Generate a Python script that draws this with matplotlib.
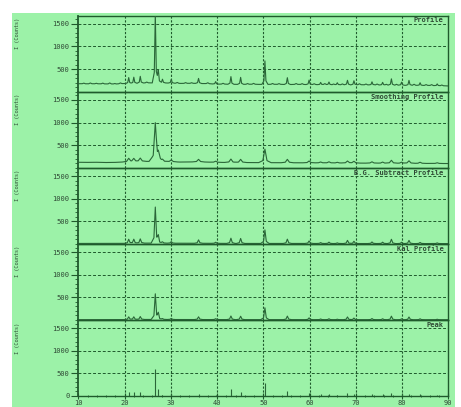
import numpy as np
import matplotlib
matplotlib.use("Agg")
import matplotlib.pyplot as plt
from matplotlib.patches import Rectangle
from matplotlib.ticker import MultipleLocator

# ---------------- data ----------------
panel_titles = ["Profile", "Smoothing Profile", "B.G. Subtract Profile", "Kal Profile", "Peak"]
y_label = "I (Counts)"
x_ticks = [10, 20, 30, 40, 50, 60, 70, 80, 90]
y_ticks = [500, 1000, 1500]

peak_2theta = [20.9, 22.0, 23.4, 26.65, 27.3, 28.2, 30.1, 36.0, 39.7, 43.0, 45.1, 50.35,
               55.2, 59.9, 62.4, 64.2, 66.0, 68.2, 69.6, 73.5, 75.8, 77.7, 79.9, 81.5, 83.9, 87.6]

heights_profile = [130, 135, 150, 1530, 290, 80, 85, 110, 55, 170, 155, 520,
                   150, 100, 50, 60, 45, 100, 90, 70, 60, 140, 70, 110, 60, 40]
heights_smooth = [75, 70, 75, 840, 150, 40, 40, 55, 25, 75, 70, 300,
                  75, 40, 20, 25, 15, 45, 40, 30, 25, 65, 25, 55, 25, 15]
heights_bgsub = [90, 90, 95, 790, 140, 30, 35, 75, 25, 115, 110, 300,
                 95, 55, 20, 30, 15, 70, 50, 35, 30, 95, 30, 70, 25, 15]
heights_kal = [60, 60, 65, 560, 125, 20, 25, 60, 20, 80, 75, 262,
               78, 40, 15, 20, 10, 60, 35, 25, 20, 78, 20, 60, 20, 10]
heights_peak = [95, 95, 95, 593, 155, 30, 40, 50, 25, 148, 95, 282,
                118, 73, 35, 45, 30, 60, 45, 40, 35, 70, 40, 55, 35, 25]

bg_2theta = [10, 12, 14, 16, 18, 20, 24, 28, 32, 36, 40, 45, 50, 55, 60, 65, 70, 75, 80, 85, 90]
bg_profile = [175, 170, 172, 168, 165, 178, 190, 195, 180, 182, 165, 160, 160, 158, 155, 150, 150, 145, 140, 135, 125]
bg_smooth = [120, 118, 120, 115, 118, 128, 140, 140, 125, 130, 118, 115, 112, 110, 108, 105, 102, 100, 98, 95, 92]
bg_bgsub = [8, 8, 8, 8, 8, 10, 15, 15, 12, 12, 10, 8, 8, 8, 8, 6, 6, 6, 5, 5, 5]
bg_kal = [5, 5, 5, 5, 5, 7, 10, 10, 8, 8, 7, 6, 6, 6, 5, 5, 5, 5, 4, 4, 4]

# small wiggles visible on the raw profile
wiggle_2theta = [11.2, 12.6, 13.9, 15.3, 16.8, 17.9, 19.1, 24.8, 31.4, 33.2, 34.5, 38.0, 41.3,
                 46.6, 47.9, 52.0, 53.4, 57.1, 58.4, 61.0, 63.3, 65.2, 67.1, 70.8, 72.2, 74.6,
                 76.6, 78.8, 82.6, 85.2, 86.4, 88.6]
wiggle_counts = [15, 20, 12, 18, 25, 14, 20, 20, 20, 18, 15, 22, 20, 18, 22, 20, 18, 22, 20,
                 20, 25, 18, 20, 25, 20, 22, 18, 20, 25, 20, 22, 18]

# ---------------- style ----------------
BG = "#9cf2a8"
LINE = "#2a6638"
AX = "#1f5a2c"
TXT = "#2f4a35"
FONT = "DejaVu Sans Mono"

W, H = 461, 407
fig = plt.figure(figsize=(W / 100, H / 100), dpi=100)
fig.patch.set_facecolor("white")
fig.patches.append(Rectangle((12 / W, 0), (455 - 12) / W, (H - 13) / H,
                             transform=fig.transFigure, facecolor=BG, edgecolor="none", zorder=-10))

left_px, right_px = 78.3, 448.3
top_px, bot_px = 15.5, 396.0
ph = (bot_px - top_px) / 5


def build_profile(bx, by, pos, hts, hw):
    xs = list(bx)
    for p in pos:
        xs += [p - 3 * hw, p - hw, p, p + hw, p + 3 * hw]
    xs = np.array(sorted(x for x in xs if 10 <= x <= 90))
    ys = np.interp(xs, bx, by)
    for p, h in zip(pos, hts):
        ys = ys + h * np.interp(xs - p, [-3 * hw, -hw, 0, hw, 3 * hw], [0, 0.15, 1, 0.15, 0])
    return xs, ys


profiles = [
    (bg_profile, heights_profile, 0.22),
    (bg_smooth, heights_smooth, 0.45),
    (bg_bgsub, heights_bgsub, 0.3),
    (bg_kal, heights_kal, 0.3),
]

for i in range(5):
    ptop = top_px + i * ph
    ax = fig.add_axes([left_px / W, 1 - (ptop + ph) / H, (right_px - left_px) / W, ph / H])
    ax.set_facecolor("none")
    ax.set_xlim(10, 90)
    ax.set_ylim(0, 1685)
    for s in ax.spines.values():
        s.set_color(AX)
        s.set_linewidth(1.0)
    ax.spines["left"].set_linewidth(1.3)

    for gx in x_ticks[1:-1]:
        ax.axvline(gx, color=AX, lw=0.8, ls=(0, (2, 1.5)), zorder=1)
    for gy in y_ticks:
        ax.axhline(gy, color=AX, lw=0.7, ls=(0, (3, 2)), zorder=1)

    if i < 4:
        bg, hts, hw = profiles[i]
        xs, ys = build_profile(bg_2theta, bg, peak_2theta, hts, hw)
        if i == 0:
            wx, wy = build_profile(bg_2theta, [0] * len(bg_2theta), wiggle_2theta, wiggle_counts, 0.35)
            ux = np.union1d(xs, wx)
            ys = np.interp(ux, xs, ys) + np.interp(ux, wx, wy)
            xs = ux
        ax.plot(xs, ys, color=LINE, lw=0.8, zorder=3)
        ax.set_yticks(y_ticks)
    else:
        ax.vlines(peak_2theta, 0, heights_peak, color=LINE, lw=0.8, zorder=3)
        ax.set_yticks([0] + y_ticks)

    ax.yaxis.set_minor_locator(MultipleLocator(100))
    ax.xaxis.set_minor_locator(MultipleLocator(2))
    ax.tick_params(axis="y", which="major", direction="out", length=5, width=0.8, color=AX,
                   pad=1.5, labelsize=5, labelcolor=TXT)
    ax.tick_params(axis="y", which="minor", direction="out", length=2.2, width=0.6, color=AX)
    if i < 4:
        ax.tick_params(axis="x", which="both", bottom=False, labelbottom=False)
    else:
        ax.set_xticks(x_ticks)
        ax.tick_params(axis="x", which="major", direction="inout", length=4, width=0.8, color=AX,
                       pad=1.0, labelsize=5, labelcolor=TXT)
        ax.tick_params(axis="x", which="minor", direction="inout", length=2, width=0.6, color=AX)
    for lab in ax.get_yticklabels() + ax.get_xticklabels():
        lab.set_family(FONT)

    ax.text(0.987, 0.975, panel_titles[i], transform=ax.transAxes, ha="right", va="top",
            fontsize=5, family=FONT, fontweight="bold", color=TXT, zorder=4)

    fig.text(17 / W, 1 - (ptop + 18) / H, y_label, rotation=90, ha="center", va="center",
             fontsize=3.8, family=FONT, color=TXT)

fig.savefig("out.png", dpi=100)
